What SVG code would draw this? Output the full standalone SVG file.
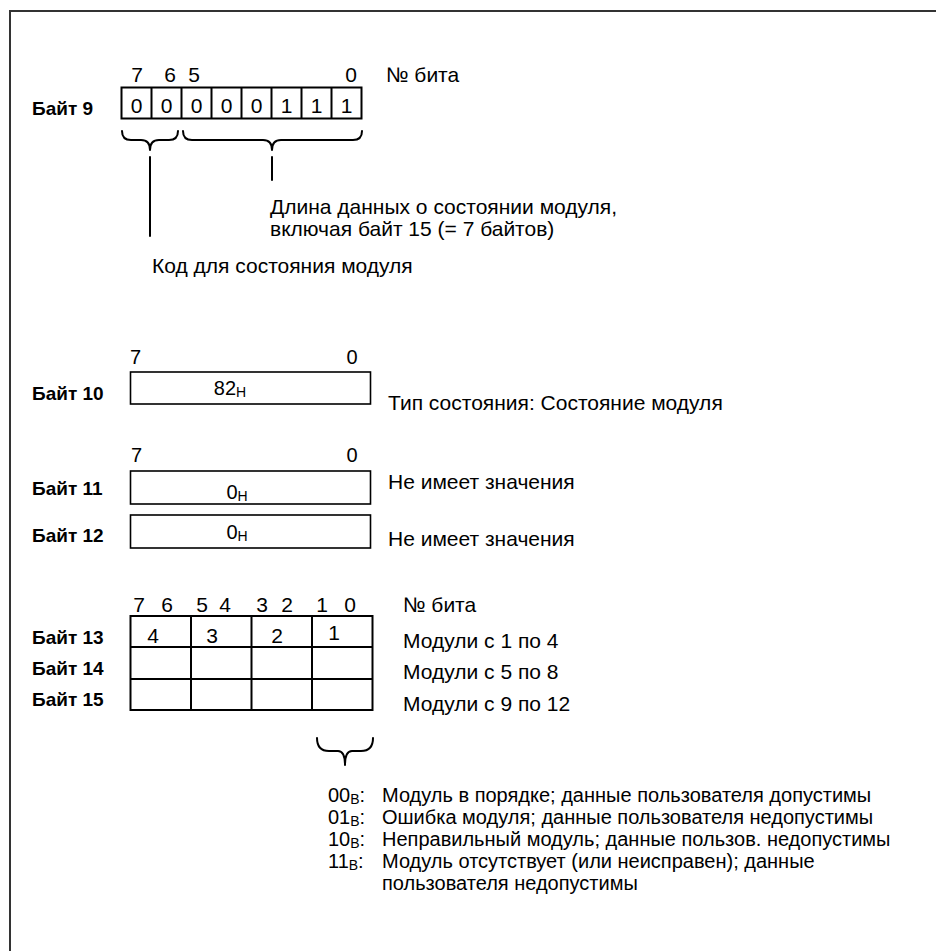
<svg xmlns="http://www.w3.org/2000/svg" width="936" height="951" viewBox="0 0 936 951">
<style>
text{font-family:"Liberation Sans",Arial,sans-serif;font-size:21px;fill:#000}
.b{font-weight:bold;font-size:19px}
.c{text-anchor:middle}
.d{font-size:20px}
.n{font-size:17px}
.lg{font-size:20px}
.box{fill:none;stroke:#000;stroke-width:2}
.thin{fill:none;stroke:#000;stroke-width:1.6}
.ln{fill:none;stroke:#000;stroke-width:2;stroke-linecap:round;stroke-linejoin:round}
</style>
<rect width="936" height="951" fill="#fff"/>
<path d="M10,951 V11 H936" fill="none" stroke="#333" stroke-width="2"/>

<g id="byte9">
<text class="b" x="32" y="115">Байт 9</text>
<g class="c d">
<text x="137" y="82">7</text><text x="170" y="82">6</text><text x="194" y="82">5</text><text x="351" y="82">0</text>
</g>
<rect class="box" x="121.5" y="87.5" width="240" height="31"/>
<path class="box" d="M151.5,87.5V118.5M181.5,87.5V118.5M211.5,87.5V118.5M241.5,87.5V118.5M271.5,87.5V118.5M301.5,87.5V118.5M331.5,87.5V118.5"/>
<g class="c d">
<text x="136.5" y="113">0</text><text x="166.5" y="113">0</text><text x="196.5" y="113">0</text><text x="226.5" y="113">0</text><text x="256.5" y="113">0</text><text x="286.5" y="113">1</text><text x="316.5" y="113">1</text><text x="346.5" y="113">1</text>
</g>
<text x="386" y="82">№ бита</text>
</g>

<g id="label-length">
<text x="270" y="214">Длина данных о состоянии модуля,</text>
<text x="270" y="236">включая байт 15 (= 7 байтов)</text>
</g>
<g id="label-code">
<text x="152" y="273">Код для состояния модуля</text>
</g>

<g id="byte10">
<text class="b" x="32" y="400">Байт 10</text>
<text class="d" x="130" y="364">7</text><text class="c d" x="352" y="364">0</text>
<rect class="thin" x="130.5" y="372" width="240" height="32"/>
<text class="c d" x="230" y="395">82<tspan font-size="14" dy="2">H</tspan></text>
<text x="388" y="410">Тип состояния: Состояние модуля</text>
</g>

<g id="byte11">
<text class="b" x="32" y="495">Байт 11</text>
<text class="d" x="131" y="462">7</text><text class="c d" x="352" y="462">0</text>
<rect class="thin" x="130.5" y="471" width="240" height="33"/>
<text class="c d" x="237" y="499">0<tspan font-size="14" dy="2">H</tspan></text>
<text x="388" y="489">Не имеет значения</text>
</g>

<g id="byte12">
<text class="b" x="32" y="542">Байт 12</text>
<rect class="thin" x="130.5" y="515" width="240" height="33"/>
<text class="c d" x="237" y="539">0<tspan font-size="14" dy="2">H</tspan></text>
<text x="388" y="546">Не имеет значения</text>
</g>

<g id="bytes13-15">
<g class="c d">
<text x="139" y="612">7</text><text x="167" y="612">6</text><text x="202" y="612">5</text><text x="225" y="612">4</text><text x="262" y="612">3</text><text x="287" y="612">2</text><text x="322" y="612">1</text><text x="350" y="612">0</text>
</g>
<rect class="box" x="130.5" y="616" width="242" height="94"/>
<path class="box" d="M191,616V710M251.5,616V710M312,616V710M130.5,647H372.5M130.5,679H372.5"/>
<g class="c n">
<text x="153" y="643">4</text><text x="212" y="643">3</text><text x="277" y="643">2</text><text x="334" y="640">1</text>
</g>
<text class="b" x="32" y="644">Байт 13</text>
<text class="b" x="32" y="675">Байт 14</text>
<text class="b" x="32" y="706">Байт 15</text>
<text x="403" y="612">№ бита</text>
<text x="403" y="648">Модули с 1 по 4</text>
<text x="403" y="679">Модули с 5 по 8</text>
<text x="403" y="711">Модули с 9 по 12</text>
</g>

<g id="legend" class="lg">
<text class="lg" x="328" y="802">00<tspan font-size="14" dy="2">B</tspan><tspan dy="-2">:</tspan><tspan x="382">Модуль в порядке; данные пользователя допустимы</tspan></text>
<text class="lg" x="328" y="824">01<tspan font-size="14" dy="2">B</tspan><tspan dy="-2">:</tspan><tspan x="382">Ошибка модуля; данные пользователя недопустимы</tspan></text>
<text class="lg" x="328" y="846">10<tspan font-size="14" dy="2">B</tspan><tspan dy="-2">:</tspan><tspan x="382">Неправильный модуль; данные пользов. недопустимы</tspan></text>
<text class="lg" x="328" y="868">11<tspan font-size="14" dy="2">B</tspan><tspan dy="-2">:</tspan><tspan x="382">Модуль отсутствует (или неисправен); данные</tspan></text>
<text class="lg" x="382" y="890">пользователя недопустимы</text>
</g>

<g id="connectors">
<path class="ln" d="M122,131 Q122,140 131,140 L141,140 Q150,140 150,150 Q150,140 159,140 L169,140 Q178,140 178,131"/>
<path class="ln" d="M183,131 Q183,140 192,140 L263,140 Q272,140 272,150 Q272,140 281,140 L353,140 Q362,140 362,131"/>
<path class="ln" d="M150,157 V236 M272,157 V180"/>
<path class="ln" d="M317,738 Q317,751 329,751 L338,751 Q345,751 345,765 Q345,751 352,751 L361,751 Q373,751 373,738"/>
</g>
</svg>
